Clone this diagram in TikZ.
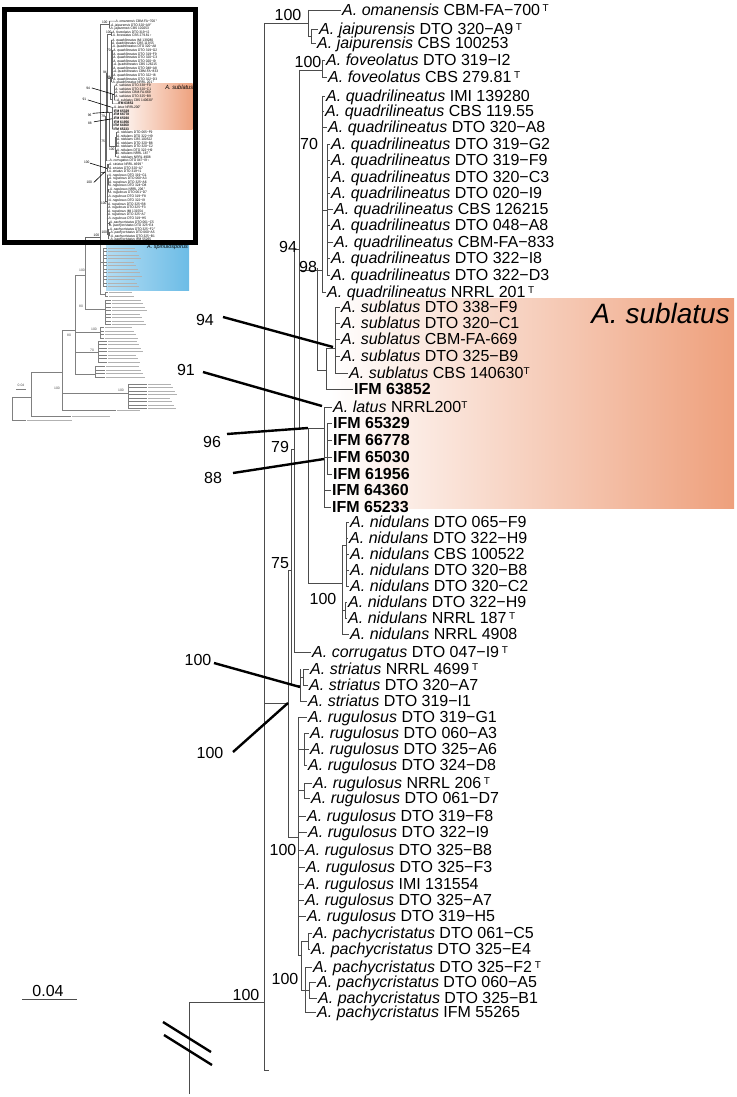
\documentclass[tikz,border=0pt]{standalone}
\usepackage{fontspec}
\setmainfont{Liberation Sans}
\usetikzlibrary{calc}
\definecolor{sublorange}{RGB}{238,160,124}
\definecolor{spinblueA}{RGB}{178,220,243}
\definecolor{spinblueB}{RGB}{108,188,230}
\newcommand{\nm}[1]{\textit{#1}}
\newcommand{\typ}{\raisebox{3.8pt}{\fontsize{10}{10}\selectfont T}}
% tip: prefix, name, x of parent line, x of text, y, label
\newcommand{\tp}[6]{%
  \node[tip] (#1#2) at (#4,#5) {#6};
  \draw[br] (#3,#5) -- ([xshift=-1.5pt]#1#2.west);}
% callout: prefix, name, label pos, label, line start, line end
\newcommand{\callout}[6]{%
  \node[sup] (#1#2) at (#3) {#4};
  \coordinate (#1#2s) at (#5);
  \coordinate (#1#2e) at (#6);
  \draw[ptr] (#1#2s) -- (#1#2e);}
% tiny tip group of the overview tree: x, top y, count, x of text, length
\newcommand{\tgroup}[5]{%
  \draw[tbr] (#1,#2) -- ++(0,{(#3-1)*3.5});
  \foreach \i in {1,...,#3}{
    \draw[tbr] (#1,{#2+(\i-1)*3.5}) -- (#4-1,{#2+(\i-1)*3.5});
    \draw[tbar] (#4,{#2+(\i-1)*3.5}) -- ++({#5-mod(\i*7,9)},0);
  }}
\newcommand{\drawtree}[1]{%
  % sublatus clade
  \shade[left color=white, right color=sublorange] (330,298) rectangle (734,508);
  \node[clade] (#1clade) at (730,313) {A. sublatus};
  % backbone
  \draw[br] (189,1094) -- (189,1002) -- (264,1002);
  \draw[br] (264,23) -- (264,1070) -- (269,1070);
  \draw[br] (264,23) -- (308,23);
  \draw[br] (264,703) -- (288,703);
  \draw[br] (288,570) -- (288,837) -- (298,837);
  \draw[br] (288,570) -- (291,570);
  \draw[br] (291,449) -- (291,685) -- (300,685);
  \draw[br] (291,449) -- (294,449);
  \draw[br] (294,247) -- (294,652);
  \draw[br] (294,249) -- (299,249);
  \draw[br] (299,70) -- (299,428) -- (308,428);
  \draw[br] (299,70) -- (322,70);
  \draw[br] (299,270) -- (322,270);
  \draw[br] (317,268) -- (317,370) -- (326,370);
  \draw[br] (308,428) -- (308,583) -- (342,583);
  \draw[br] (308,428) -- (324,428);
  % omanensis, jaipurensis
  \draw[br] (308,10) -- (308,36) -- (311,36);
  \draw[br] (311,29) -- (311,43);
  \draw[br] (322,60) -- (322,77);
  % quadrilineatus
  \draw[br] (322,96) -- (322,292);
  \draw[br] (322,210) -- (327,210);
  \draw[br] (327,144) -- (327,275);
  % sublatus, IFM
  \draw[br] (326,348) -- (326,389);
  \draw[br] (326,348) -- (335,348);
  \draw[br] (335,307) -- (335,373);
  \draw[br] (324,407) -- (324,507);
  \draw[br] (324,457) -- (327,457);
  \draw[br] (327,423) -- (327,474);
  % nidulans
  \draw[br] (342,545) -- (342,634);
  \draw[br] (342,545) -- (346,545);
  \draw[br] (346,522) -- (346,587);
  \draw[br] (342,610) -- (345,610);
  \draw[br] (345,602) -- (345,619);
  % striatus
  \draw[br] (300,669) -- (300,701);
  \draw[br] (300,677) -- (303,677);
  \draw[br] (303,669) -- (303,685);
  % rugulosus, pachycristatus
  \draw[br] (298,717) -- (298,955) -- (301,955);
  \draw[br] (298,749) -- (304,749);
  \draw[br] (304,733) -- (304,765);
  \draw[br] (298,790) -- (304,790);
  \draw[br] (304,783) -- (304,798);
  \draw[br] (301,941) -- (301,990) -- (305,990);
  \draw[br] (301,941) -- (308,941);
  \draw[br] (308,933) -- (308,949);
  \draw[br] (305,967) -- (305,1012);
  \draw[br] (305,990) -- (309,990);
  \draw[br] (309,982) -- (309,998);
  % tips
  \tp{#1}{oman}{308}{342}{10}{\nm{A. omanensis} CBM-FA−700\,\typ}
  \tp{#1}{jaiA}{311}{319}{29}{\nm{A. jaipurensis} DTO 320−A9\,\typ}
  \tp{#1}{jaiB}{311}{317}{43}{\nm{A. jaipurensis} CBS 100253}
  \tp{#1}{fovA}{322}{326}{60}{\nm{A. foveolatus} DTO 319−I2}
  \tp{#1}{fovB}{322}{328}{77}{\nm{A. foveolatus} CBS 279.81\,\typ}
  \tp{#1}{quaA}{322}{326}{96}{\nm{A. quadrilineatus} IMI 139280}
  \tp{#1}{quaB}{322}{325}{111}{\nm{A. quadrilineatus} CBS 119.55}
  \tp{#1}{quaC}{322}{328}{127}{\nm{A. quadrilineatus} DTO 320−A8}
  \tp{#1}{quaD}{327}{331}{144}{\nm{A. quadrilineatus} DTO 319−G2}
  \tp{#1}{quaE}{327}{331}{160}{\nm{A. quadrilineatus} DTO 319−F9}
  \tp{#1}{quaF}{327}{331}{177}{\nm{A. quadrilineatus} DTO 320−C3}
  \tp{#1}{quaG}{327}{331}{193}{\nm{A. quadrilineatus} DTO 020−I9}
  \tp{#1}{quaH}{327}{334}{209}{\nm{A. quadrilineatus} CBS 126215}
  \tp{#1}{quaI}{327}{331}{225}{\nm{A. quadrilineatus} DTO 048−A8}
  \tp{#1}{quaJ}{327}{334}{242}{\nm{A. quadrilineatus} CBM-FA−833}
  \tp{#1}{quaK}{327}{331}{258}{\nm{A. quadrilineatus} DTO 322−I8}
  \tp{#1}{quaL}{327}{331}{275}{\nm{A. quadrilineatus} DTO 322−D3}
  \tp{#1}{quaM}{322}{327}{292}{\nm{A. quadrilineatus} NRRL 201\,\typ}
  \tp{#1}{subA}{335}{341}{307}{\nm{A. sublatus} DTO 338−F9}
  \tp{#1}{subB}{335}{341}{323}{\nm{A. sublatus} DTO 320−C1}
  \tp{#1}{subC}{335}{341}{339}{\nm{A. sublatus} CBM-FA-669}
  \tp{#1}{subD}{335}{341}{356}{\nm{A. sublatus} DTO 325−B9}
  \tp{#1}{subE}{335}{349}{373}{\nm{A. sublatus} CBS 140630\typ}
  \tp{#1}{ifmA}{326}{354}{389}{\textbf{IFM 63852}}
  \tp{#1}{lat}{324}{333}{407}{\nm{A. latus} NRRL200\typ}
  \tp{#1}{ifmB}{327}{333}{423}{\textbf{IFM 65329}}
  \tp{#1}{ifmC}{327}{333}{440}{\textbf{IFM 66778}}
  \tp{#1}{ifmD}{327}{333}{457}{\textbf{IFM 65030}}
  \tp{#1}{ifmE}{327}{333}{474}{\textbf{IFM 61956}}
  \tp{#1}{ifmF}{324}{332}{490}{\textbf{IFM 64360}}
  \tp{#1}{ifmG}{324}{332}{507}{\textbf{IFM 65233}}
  \tp{#1}{nidA}{346}{350}{522}{\nm{A. nidulans} DTO 065−F9}
  \tp{#1}{nidB}{346}{349}{538}{\nm{A. nidulans} DTO 322−H9}
  \tp{#1}{nidC}{346}{350}{554}{\nm{A. nidulans} CBS 100522}
  \tp{#1}{nidD}{346}{350}{570}{\nm{A. nidulans} DTO 320−B8}
  \tp{#1}{nidE}{346}{350}{586}{\nm{A. nidulans} DTO 320−C2}
  \tp{#1}{nidF}{345}{348}{602}{\nm{A. nidulans} DTO 322−H9}
  \tp{#1}{nidG}{345}{348}{618}{\nm{A. nidulans} NRRL 187\,\typ}
  \tp{#1}{nidH}{342}{350}{634}{\nm{A. nidulans} NRRL 4908}
  \tp{#1}{cor}{294}{312}{652}{\nm{A. corrugatus} DTO 047−I9\,\typ}
  \tp{#1}{strA}{303}{310}{669}{\nm{A. striatus} NRRL 4699\,\typ}
  \tp{#1}{strB}{303}{309}{685}{\nm{A. striatus} DTO 320−A7}
  \tp{#1}{strC}{300}{308}{701}{\nm{A. striatus} DTO 319−I1}
  \tp{#1}{rugA}{298}{308}{717}{\nm{A. rugulosus} DTO 319−G1}
  \tp{#1}{rugB}{304}{310}{733}{\nm{A. rugulosus} DTO 060−A3}
  \tp{#1}{rugC}{304}{310}{749}{\nm{A. rugulosus} DTO 325−A6}
  \tp{#1}{rugD}{304}{308}{765}{\nm{A. rugulosus} DTO 324−D8}
  \tp{#1}{rugE}{304}{313}{783}{\nm{A. rugulosus} NRRL 206\,\typ}
  \tp{#1}{rugF}{304}{311}{798}{\nm{A. rugulosus} DTO 061−D7}
  \tp{#1}{rugG}{298}{307}{816}{\nm{A. rugulosus} DTO 319−F8}
  \tp{#1}{rugH}{298}{308}{832}{\nm{A. rugulosus} DTO 322−I9}
  \tp{#1}{rugI}{298}{305}{850}{\nm{A. rugulosus} DTO 325−B8}
  \tp{#1}{rugJ}{298}{306}{867}{\nm{A. rugulosus} DTO 325−F3}
  \tp{#1}{rugK}{298}{305}{884}{\nm{A. rugulosus} IMI 131554}
  \tp{#1}{rugL}{298}{305}{900}{\nm{A. rugulosus} DTO 325−A7}
  \tp{#1}{rugM}{298}{307}{916}{\nm{A. rugulosus} DTO 319−H5}
  \tp{#1}{pacA}{308}{313}{933}{\nm{A. pachycristatus} DTO 061−C5}
  \tp{#1}{pacB}{308}{311}{949}{\nm{A. pachycristatus} DTO 325−E4}
  \tp{#1}{pacC}{305}{313}{967}{\nm{A. pachycristatus} DTO 325−F2\,\typ}
  \tp{#1}{pacD}{309}{317}{982}{\nm{A. pachycristatus} DTO 060−A5}
  \tp{#1}{pacE}{309}{318}{998}{\nm{A. pachycristatus} DTO 325−B1}
  \tp{#1}{pacF}{305}{317}{1012}{\nm{A. pachycristatus} IFM 55265}
  % support values
  \node[sup] (#1sA) at (288,15) {100};
  \node[sup] (#1sB) at (308,62) {100};
  \node[sup] (#1sC) at (309,144) {70};
  \node[sup] (#1sD) at (288,247) {94};
  \node[sup] (#1sE) at (308,267) {98};
  \node[sup] (#1sF) at (280,447) {79};
  \node[sup] (#1sG) at (280,563) {75};
  \node[sup] (#1sH) at (323,599) {100};
  \node[sup] (#1sI) at (283,850) {100};
  \node[sup] (#1sJ) at (285,979) {100};
  \node[sup] (#1sK) at (246,995) {100};
  % callouts
  \callout{#1}{cA}{205,320}{94}{223,317}{333,347}
  \callout{#1}{cB}{186,370}{91}{203,372}{322,406}
  \callout{#1}{cC}{212,442}{96}{227,434}{308,428}
  \callout{#1}{cD}{213,478}{88}{233,473}{324,459}
  \callout{#1}{cE}{198,660}{100}{214,663}{300,687}
  \callout{#1}{cF}{210,753}{100}{233,752}{288,703}
}
\tikzset{
  br/.style={draw=black!70, line width=0.7pt},
  tip/.style={inner sep=0pt, anchor=west, text height=11.5pt, text depth=0pt,
    font=\fontsize{16}{18}\selectfont},
  sup/.style={inner sep=0pt, font=\fontsize{16}{18}\selectfont},
  clade/.style={inner sep=0pt, anchor=east, font=\fontsize{28}{30}\selectfont\itshape},
  ptr/.style={line width=2.4pt},
  tbr/.style={draw=black!50, line width=0.35pt},
  tbar/.style={draw=black!30, line width=0.9pt},
  tsup/.style={inner sep=0pt, font=\fontsize{3.4}{4}\selectfont, text=black!70}
}
\begin{document}
\begin{tikzpicture}[x=1pt,y=-1pt]
\useasboundingbox (0,0) rectangle (736,1097);
% main tree
\drawtree{m}
% scale bar and break of the root branch
\node[sup] (scale) at (48,991) {0.04};
\coordinate (scaleL) at (22,999);
\coordinate (scaleR) at (77,999);
\draw[br] (scaleL) -- (scaleR);
\draw[line width=2.4pt] (163,1022) -- (211,1052);
\draw[line width=2.4pt] (164,1035) -- (212,1065);

% overview tree: lower part
\shade[left color=spinblueA, right color=spinblueB] (106,244) rectangle (189,290);
\node[inner sep=0pt, anchor=west, font=\fontsize{5.5}{6}\selectfont\itshape] (ovspin) at (147,247.5) {A. spinulosporus};
\draw[tbr] (100,241) -- (100,294);
\draw[tbr] (100,262) -- (103,262);
\draw[tbr] (100,294) -- (105,294);
\draw[tbr] (85,241) -- (85,309) -- (105,309);
\draw[tbr] (75,275) -- (75,374);
\draw[tbr] (75,275) -- (85,275);
\draw[tbr] (75,332) -- (100,332);
\draw[tbr] (75,352) -- (98,352);
\draw[tbr] (75,374) -- (95,374);
\draw[tbr] (62,330) -- (62,410);
\draw[tbr] (62,330) -- (75,330);
\draw[tbr] (62,393) -- (128,393);
\draw[tbr] (62,410) -- (116,410);
\draw[tbr] (31,372) -- (31,416);
\draw[tbr] (31,372) -- (62,372);
\draw[tbr] (31,416) -- (71,416);
\draw[tbr] (12,397) -- (12,420);
\draw[tbr] (12,397) -- (31,397);
\draw[tbr] (12,420) -- (26,420);
\tgroup{103}{248}{12}{108}{34}
\tgroup{105}{292.5}{2}{109}{30}
\tgroup{105}{300}{8}{112}{36}
\tgroup{100}{327.5}{4}{105}{34}
\tgroup{98}{341}{7}{108}{36}
\tgroup{95}{366.5}{4}{106}{40}
\tgroup{128}{384}{8}{148}{30}
\draw[tbar] (117,410) -- (140,410);
\draw[tbar] (72,416) -- (110,416);
\draw[tbar] (27,420) -- (72,420);
\node[tsup] (ovsA) at (82,270) {100};
\node[tsup] (ovsB) at (81,306) {80};
\node[tsup] (ovsC) at (94,329) {100};
\node[tsup] (ovsD) at (69,335) {80};
\node[tsup] (ovsE) at (92,350) {70};
\node[tsup] (ovsF) at (57,388) {100};
\node[tsup] (ovsG) at (121,390) {100};
\node[tsup] (ovscale) at (21,385) {0.04};
\draw[tbr] (16,389.5) -- (26,389.5);

% overview tree: boxed part, a reduced copy of the main tree
\begin{scope}
  \clip (6.5,11.5) rectangle (192.5,240);
  \begin{scope}[shift={(47.2,19.0)}, xscale=0.2, yscale=0.2174, transform shape,
      br/.style={draw=black!60, line width=0.35pt},
      ptr/.style={line width=0.6pt}]
    \drawtree{t}
  \end{scope}
\end{scope}
\draw[line width=5pt] (4.3,9.5) rectangle (195,242);
\end{tikzpicture}
\end{document}
